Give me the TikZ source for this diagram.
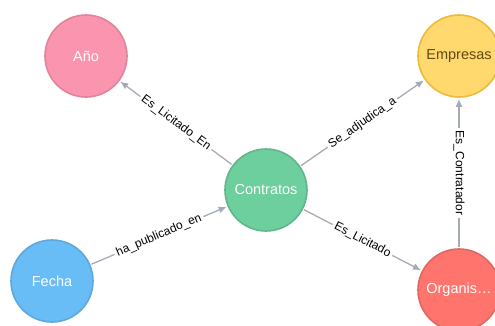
\documentclass[tikz,border=0pt]{standalone}
\usepackage{fontspec}
\setmainfont{Liberation Sans}
\usetikzlibrary{arrows.meta}
\usetikzlibrary{positioning}

\definecolor{anofill}{HTML}{FB95AF}
\definecolor{anodraw}{HTML}{E0849B}
\definecolor{empfill}{HTML}{FFD86E}
\definecolor{empdraw}{HTML}{EDBA39}
\definecolor{emptext}{HTML}{604A0E}
\definecolor{confill}{HTML}{6DCE9E}
\definecolor{condraw}{HTML}{60B58B}
\definecolor{fecfill}{HTML}{68BDF6}
\definecolor{fecdraw}{HTML}{5CA8DB}
\definecolor{orgfill}{HTML}{FF756E}
\definecolor{orgdraw}{HTML}{E06760}
\definecolor{relgray}{HTML}{A5ABB6}

\begin{document}
\begin{tikzpicture}[x=1pt, y=-1pt,
		entity/.style={circle, minimum size=82pt, inner sep=0pt, line width=1.6pt, text=white, font=\fontsize{14.5}{14.5}\selectfont},
		rel/.style={draw=relgray, line width=1.3pt, -{Latex[length=8pt,width=7pt]}, shorten >=1pt, shorten <=1pt},
		rellabel/.style={fill=white, inner sep=2.5pt, text=black, font=\fontsize{12}{12}\selectfont}]
	\useasboundingbox (0,0) rectangle (495,325);
	\clip (0,0) rectangle (495,325);
	
	% Nodes
	\node[entity, fill=anofill, draw=anodraw] (ano) at (86,56) {Año};
	\node[entity, fill=empfill, draw=empdraw, text=emptext] (empresas) at (459,56) {Empresas};
	\node[entity, fill=confill, draw=condraw] (contratos) at (266,190) {Contratos};
	\node[entity, fill=fecfill, draw=fecdraw] (fecha) at (52,281) {Fecha};
	\node[entity, fill=orgfill, draw=orgdraw] (organis) at (459,290) {Organis\ldots};
	
	% Relations
	\draw[rel] (contratos) -- node[rellabel, sloped] {Es\_Licitado\_En} (ano);
	\draw[rel] (contratos) -- node[rellabel, sloped] {Se\_adjudica\_a} (empresas);
	\draw[rel] (fecha) -- node[rellabel, sloped] {ha\_publicado\_en} (contratos);
	\draw[rel] (contratos) -- node[rellabel, sloped] {Es\_Licitado} (organis);
	\draw[rel] (organis) -- node[rellabel, rotate=-90] {Es\_Contratador} (empresas);
\end{tikzpicture}
\end{document}
